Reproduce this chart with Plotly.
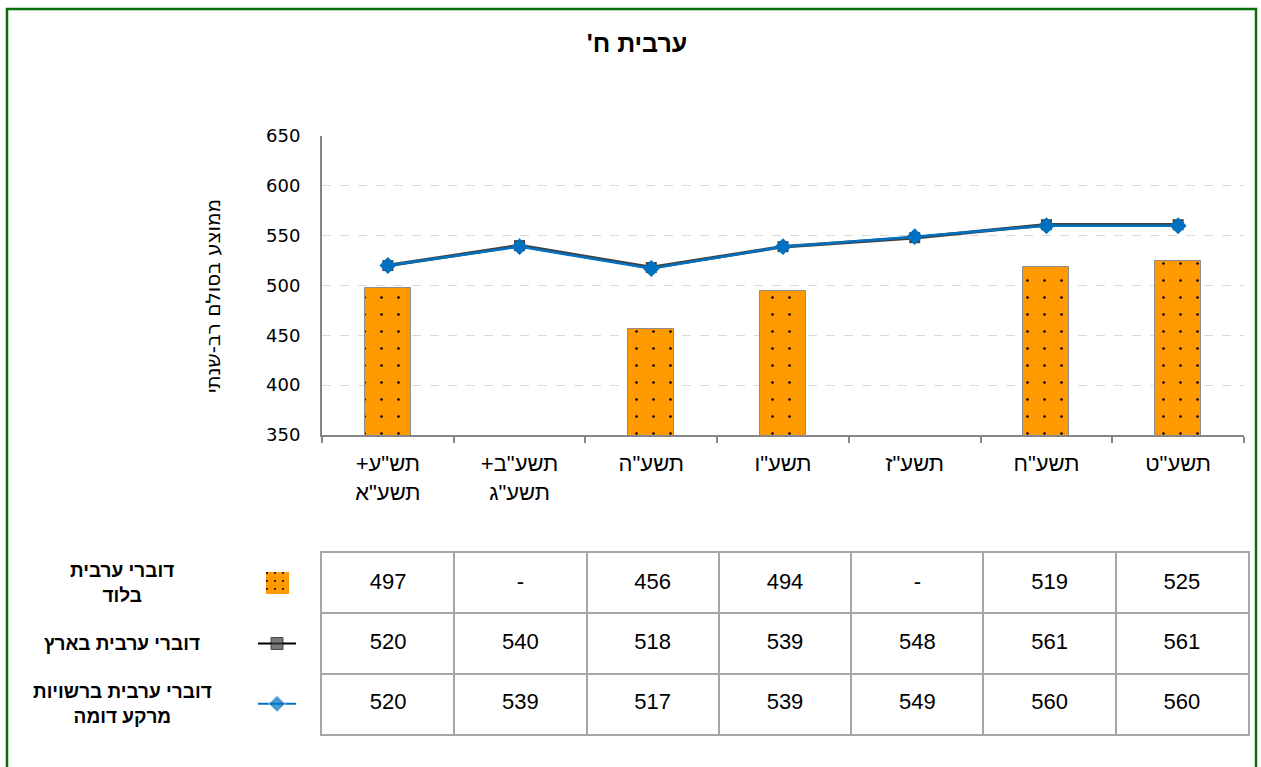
import plotly.graph_objects as go

W, H = 1261, 767
RLM = "\u200f"

def rtl(s):
    return "<br>".join(RLM + part + RLM for part in s.split("<br>"))

# ---------------- data ----------------
tick_labels = ['תש"ע+<br>תשע"א', 'תשע"ב+<br>תשע"ג', 'תשע"ה', 'תשע"ו', 'תשע"ז', 'תשע"ח', 'תשע"ט']
series_names = ['דוברי ערבית בלוד', 'דוברי ערבית בארץ', 'דוברי ערבית ברשויות מרקע דומה']
legend_labels = ['דוברי ערבית<br>בלוד', 'דוברי ערבית בארץ', 'דוברי ערבית ברשויות<br>מרקע דומה']
lod = [497, None, 456, 494, None, 519, 525]
national = [520, 540, 518, 539, 548, 561, 561]
similar = [520, 539, 517, 539, 549, 560, 560]
title_text = "ערבית ח'"
y_title = "ממוצע בסולם רב-שנתי"

categories = [rtl(t) for t in tick_labels]

ORANGE = "#FF9900"
DARK = "#404040"
BLUE = "#0070C0"
GRID = "#a6a6a6"
AX = "#868686"
LAB = "Liberation Sans, Arial"

def px_x(p):
    return p / W

def px_y(p):
    return 1 - p / H

fig = go.Figure()

pattern = dict(shape=".", fgcolor="#000000", bgcolor=ORANGE, size=17, solidity=0.02, fgopacity=1)

# main chart
fig.add_trace(go.Bar(x=categories, y=lod, name=series_names[0], width=0.35,
                     marker=dict(color=ORANGE, line=dict(color="#8c8c8c", width=1), pattern=pattern),
                     xaxis="x", yaxis="y", showlegend=False, hoverinfo="skip"))
fig.add_trace(go.Scatter(x=categories, y=national, name=series_names[1], mode="lines+markers",
                         line=dict(color=DARK, width=3.5),
                         marker=dict(symbol="square", size=11, color=DARK),
                         xaxis="x", yaxis="y", showlegend=False, hoverinfo="skip"))
fig.add_trace(go.Scatter(x=categories, y=similar, name=series_names[2], mode="lines+markers",
                         line=dict(color=BLUE, width=2.5),
                         marker=dict(symbol="diamond", size=13, color=BLUE),
                         xaxis="x", yaxis="y", showlegend=False, hoverinfo="skip"))

# table values
for name, vals in zip(series_names, [lod, national, similar]):
    fig.add_trace(go.Scatter(x=categories, y=[name] * len(categories), mode="text",
                             text=["-" if v is None else str(v) for v in vals],
                             textfont=dict(family=LAB, size=22, color="#000000"),
                             xaxis="x2", yaxis="y2", showlegend=False, hoverinfo="skip"))

# legend keys
fig.add_trace(go.Bar(x=[23], base=[11], y=[series_names[0]], orientation="h", width=0.37,
                     marker=dict(color=ORANGE, line=dict(width=0), pattern=dict(shape=".", fgcolor="#000000", bgcolor=ORANGE, size=8, solidity=0.05, fgopacity=1)),
                     xaxis="x3", yaxis="y3", showlegend=False, hoverinfo="skip"))
fig.add_trace(go.Scatter(x=[3, 22, 41], y=[series_names[1]] * 3, mode="lines+markers",
                         line=dict(color="#000000", width=2),
                         marker=dict(symbol="square", size=[0, 12, 0], color=DARK),
                         xaxis="x3", yaxis="y3", showlegend=False, hoverinfo="skip"))
fig.add_trace(go.Scatter(x=[3, 22, 41], y=[series_names[2]] * 3, mode="lines+markers",
                         line=dict(color=BLUE, width=2),
                         marker=dict(symbol="diamond", size=[0, 13, 0], color=BLUE),
                         xaxis="x3", yaxis="y3", showlegend=False, hoverinfo="skip"))

annotations = []
for name, lab in zip(series_names, legend_labels):
    annotations.append(dict(x=px_x(122), xref="paper", y=name, yref="y2", text="<b>" + rtl(lab) + "</b>",
                            showarrow=False, align="center", xanchor="center", yanchor="middle",
                            font=dict(family=LAB, size=19, color="#000000")))
annotations.append(dict(x=px_x(213), xref="paper", y=px_y(296), yref="paper", text=rtl(y_title),
                        textangle=-90, showarrow=False, xanchor="center", yanchor="middle",
                        font=dict(family="DejaVu Sans", size=20, color="#000000")))

table_rows = dict(type="category", categoryorder="array", categoryarray=series_names, range=[2.5, -0.5],
                  domain=[px_y(734), px_y(553)])

fig.update_layout(
    width=W, height=H,
    margin=dict(l=0, r=0, t=0, b=0, pad=0, autoexpand=False),
    paper_bgcolor="white", plot_bgcolor="white",
    title=dict(text="<b>" + rtl(title_text) + "</b>", x=px_x(637), xanchor="center",
               y=px_y(43), yref="container", yanchor="middle", automargin=False,
               font=dict(family=LAB, size=25, color="#000000")),
    bargap=0,
    xaxis=dict(domain=[px_x(322), px_x(1244)], type="category", categoryorder="array", categoryarray=categories,
               range=[-0.5, 6.5], tickson="boundaries", ticks="outside", ticklen=6, tickwidth=1.5,
               tickcolor=AX, showline=True, linecolor=AX, linewidth=2, showgrid=False,
               tickfont=dict(family=LAB, size=22, color="#000000"), automargin=False,
               ticklabelstandoff=8, anchor="y", fixedrange=True),
    yaxis=dict(domain=[px_y(435), px_y(136)], range=[350, 650], dtick=50, tick0=350,
               showgrid=True, gridcolor="#d9d9d9", griddash="dash", gridwidth=1,
               showline=True, linecolor=AX, linewidth=2, ticks="", zeroline=False, automargin=False,
               tickfont=dict(family="DejaVu Sans", size=18, color="#000000"),
               ticklabelstandoff=16, anchor="x", fixedrange=True),
    xaxis2=dict(domain=[px_x(322), px_x(1248)], type="category", categoryorder="array", categoryarray=categories,
                range=[-0.5, 6.5], tickson="boundaries", showgrid=True, gridcolor=GRID, gridwidth=2,
                showline=True, mirror=True, linecolor=GRID, linewidth=2, showticklabels=False, ticks="",
                anchor="y2", fixedrange=True, automargin=False),
    yaxis2=dict(**table_rows, tickson="boundaries", showgrid=True, gridcolor=GRID, gridwidth=2,
                showline=True, mirror=True, linecolor=GRID, linewidth=2, showticklabels=False, ticks="",
                zeroline=False, anchor="x2", fixedrange=True, automargin=False),
    xaxis3=dict(domain=[px_x(255), px_x(300)], range=[0, 45], visible=False, anchor="y3",
                fixedrange=True, automargin=False),
    yaxis3=dict(**table_rows, visible=False, showgrid=False, anchor="x3", fixedrange=True, automargin=False),
    annotations=annotations,
    shapes=[dict(type="rect", xref="paper", yref="paper", x0=px_x(7), x1=px_x(1256), y0=-0.05, y1=px_y(9),
                 line=dict(color="#0a6e0a", width=2.5), fillcolor="rgba(0,0,0,0)", layer="above")],
)

fig.write_html("out.html", config={"displayModeBar": False},
               post_script="document.body.style.margin='0';document.body.style.overflow='hidden';")
